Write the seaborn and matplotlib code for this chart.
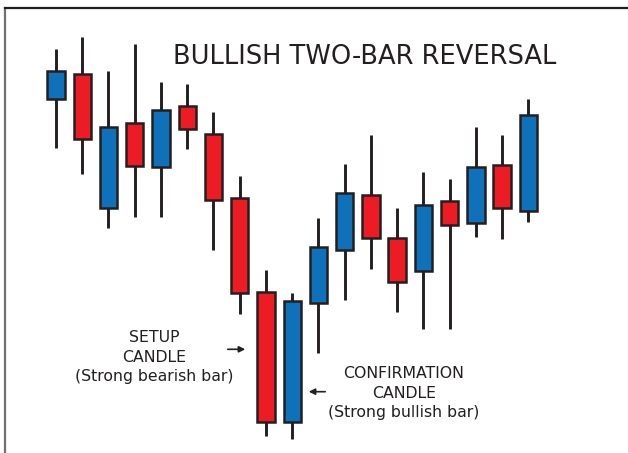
import numpy as np
import pandas as pd
import matplotlib.pyplot as plt
import seaborn as sns

# Datos de las velas (unidades arbitrarias de precio)
candle = list(range(1, 20))
open_ = [354, 379, 245, 330, 286, 347, 319, 255, 161, 31, 150, 203, 258, 215, 182, 252, 230, 288, 242]
close = [382, 314, 326, 287, 343, 324, 253, 160, 31, 152, 206, 260, 215, 171, 248, 228, 286, 245, 338]
high = [404, 416, 382, 409, 371, 369, 341, 277, 183, 160, 235, 289, 318, 245, 281, 274, 326, 318, 354]
low = [305, 279, 225, 236, 236, 304, 203, 139, 17, 14, 100, 153, 184, 141, 124, 124, 216, 214, 231]

df = pd.DataFrame({'candle': candle, 'open': open_, 'close': close, 'high': high, 'low': low})
df['pos'] = np.arange(len(df))
df['bottom'] = df[['open', 'close']].min(axis=1)
df['body'] = (df['close'] - df['open']).abs()
df['color'] = np.where(df['close'] > df['open'], '#0f71b9', '#ed1c24')

sns.set_theme(style='white')
plt.rcParams['font.family'] = ['DejaVu Sans']

dark = '#231f20'
fig = plt.figure(figsize=(6.28, 4.53), dpi=100)
ax = fig.add_axes([5 / 628, 0, 1.0, 1 - 8.3 / 453])

# Mechas
ax.vlines(df['pos'], df['low'], df['high'], color=dark, linewidth=2.1, zorder=1)
# Cuerpos
ax.bar(df['pos'], df['body'], bottom=df['bottom'], width=0.66, color=df['color'],
       edgecolor=dark, linewidth=1.8, zorder=2)

ax.set_xlim(-1.944, 21.8 + (1.0 - (1 - 5 / 628)) * 23.7)
ax.set_ylim(0, 444.7)
ax.set_xticks([])
ax.set_yticks([])
for s in ['right', 'bottom']:
    ax.spines[s].set_visible(False)
ax.spines['top'].set_color(dark)
ax.spines['top'].set_linewidth(1.6)
ax.spines['left'].set_color('#707070')
ax.spines['left'].set_linewidth(1.6)

# Título
fig.text(365 / 628, 1 - 57 / 453, 'BULLISH TWO-BAR REVERSAL', ha='center', va='center',
         fontsize=18.5, color=dark)

# Anotaciones
fig.text(154 / 628, 1 - 357 / 453, 'SETUP\nCANDLE\n(Strong bearish bar)', ha='center', va='center',
         fontsize=11.3, color=dark, linespacing=1.35)
fig.text(404 / 628, 1 - 393 / 453, 'CONFIRMATION\nCANDLE\n(Strong bullish bar)', ha='center', va='center',
         fontsize=11.3, color=dark, linespacing=1.35)

ax.annotate('', xy=(248 / 628, 1 - 349.3 / 453), xytext=(225 / 628, 1 - 349.3 / 453),
            xycoords='figure fraction', textcoords='figure fraction',
            arrowprops=dict(arrowstyle='-|>', color=dark, lw=1.2, mutation_scale=9))
ax.annotate('', xy=(306 / 628, 1 - 391.7 / 453), xytext=(328 / 628, 1 - 391.7 / 453),
            xycoords='figure fraction', textcoords='figure fraction',
            arrowprops=dict(arrowstyle='-|>', color=dark, lw=1.2, mutation_scale=9))

plt.savefig('out.png', dpi=100)
